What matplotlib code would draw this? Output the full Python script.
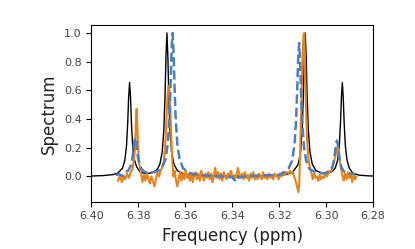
import numpy as np
import matplotlib.pyplot as plt

# black: reference spectrum
ref_ppm = [6.400, 6.395, 6.391, 6.3887, 6.3867, 6.3857, 6.3850, 6.3845, 6.3841, 6.3837,
           6.3833, 6.3829, 6.3824, 6.3817, 6.3807, 6.3792, 6.3772, 6.3752, 6.3732, 6.3718,
           6.3708, 6.3698, 6.3691, 6.3686, 6.3682, 6.3678, 6.3674, 6.3670, 6.3665, 6.3658,
           6.3648, 6.3633, 6.360, 6.355, 6.345, 6.335, 6.325, 6.318, 6.3145, 6.3119,
           6.3109, 6.3102, 6.3097, 6.3093, 6.3089, 6.3085, 6.3081, 6.3076, 6.3069, 6.3059,
           6.3044, 6.3019, 6.2996, 6.2976, 6.2961, 6.2951, 6.2944, 6.2939, 6.2935, 6.2931,
           6.2927, 6.2923, 6.2918, 6.2911, 6.2901, 6.2886, 6.286, 6.282, 6.280]
ref_val = [0.003, 0.006, 0.012, 0.023, 0.058, 0.114, 0.216, 0.37, 0.55, 0.655,
           0.556, 0.37, 0.218, 0.12, 0.067, 0.031, 0.021, 0.022, 0.032, 0.052,
           0.086, 0.171, 0.327, 0.562, 0.838, 1.0, 0.838, 0.561, 0.325, 0.169,
           0.085, 0.039, 0.013, 0.005, 0.003, 0.003, 0.003, 0.010, 0.025, 0.083,
           0.168, 0.324, 0.559, 0.835, 1.0, 0.838, 0.562, 0.327, 0.172, 0.086,
           0.042, 0.023, 0.022, 0.031, 0.059, 0.113, 0.214, 0.367, 0.547, 0.653,
           0.546, 0.366, 0.213, 0.112, 0.057, 0.022, 0.009, 0.004, 0.003]

# blue dashed: fitted spectrum
fit_ppm = [6.3895, 6.3880, 6.3865, 6.3855, 6.3843, 6.3833, 6.3826, 6.3821, 6.3817, 6.3813,
           6.3809, 6.3805, 6.3800, 6.3793, 6.3783, 6.3770, 6.3750, 6.3730, 6.3710, 6.3699,
           6.3684, 6.3674, 6.3667, 6.3662, 6.3658, 6.3654, 6.3650, 6.3646, 6.3641, 6.3634,
           6.3624, 6.3609, 6.3584, 6.355, 6.350, 6.345, 6.340, 6.3385, 6.3375, 6.335,
           6.330, 6.325, 6.320, 6.3175, 6.316, 6.3145, 6.3135, 6.3128, 6.3123, 6.3119,
           6.3115, 6.3111, 6.3107, 6.3102, 6.3095, 6.3085, 6.3070, 6.3045, 6.3010, 6.2995,
           6.2984, 6.2974, 6.2967, 6.2962, 6.2958, 6.2954, 6.2950, 6.2946, 6.2941, 6.2934,
           6.2924, 6.2905, 6.2890, 6.2877]
fit_val = [0.01, 0.015, 0.0, 0.03, 0.04, 0.07, 0.12, 0.18, 0.24, 0.27,
           0.24, 0.18, 0.12, 0.075, 0.045, 0.03, 0.025, 0.03, 0.045, 0.06,
           0.12, 0.232, 0.417, 0.654, 0.883, 1.0, 0.883, 0.654, 0.417, 0.232,
           0.118, 0.056, 0.025, 0.012, 0.005, 0.0, -0.005, -0.035, -0.01, 0.0,
           0.005, 0.008, 0.012, 0.03, 0.055, 0.11, 0.216, 0.388, 0.608, 0.82,
           0.93, 0.82, 0.608, 0.388, 0.216, 0.11, 0.05, 0.03, 0.02, 0.03,
           0.04, 0.065, 0.11, 0.17, 0.22, 0.25, 0.22, 0.165, 0.105, 0.06,
           0.035, 0.02, 0.02, 0.015]

# orange: measured spectrum
meas_ppm = [6.3886, 6.3878, 6.3870, 6.3862, 6.3855, 6.3848, 6.3840, 6.3832, 6.3825, 6.3818,
            6.3813, 6.3810, 6.3807, 6.3804, 6.3800, 6.3795, 6.3788, 6.3782, 6.3776, 6.3770,
            6.3764, 6.3757, 6.3750, 6.3744, 6.3738, 6.3731, 6.3725, 6.3718, 6.3711, 6.3705,
            6.3699, 6.3692, 6.3686, 6.3681, 6.3676, 6.3671, 6.3667, 6.3663, 6.3659, 6.3655,
            6.3650, 6.3645, 6.3640, 6.3634, 6.3628, 6.3622, 6.3616, 6.3610, 6.3604, 6.3598,
            6.3592, 6.3586, 6.3580, 6.3574, 6.3568, 6.3562, 6.3556, 6.3550, 6.3544, 6.3538,
            6.3532, 6.3526, 6.3520, 6.3514, 6.3508, 6.3502, 6.3496, 6.3490, 6.3484, 6.3478,
            6.3472, 6.3466, 6.3460, 6.3454, 6.3448, 6.3442, 6.3436, 6.3430, 6.3424, 6.3418,
            6.3412, 6.3406, 6.3400, 6.3394, 6.3388, 6.3382, 6.3376, 6.3370, 6.3364, 6.3358,
            6.3352, 6.3346, 6.3340, 6.3334, 6.3328, 6.3322, 6.3316, 6.3310, 6.3304, 6.3298,
            6.3292, 6.3286, 6.3280, 6.3274, 6.3268, 6.3262, 6.3256, 6.3250, 6.3244, 6.3238,
            6.3232, 6.3226, 6.3220, 6.3214, 6.3208, 6.3202, 6.3196, 6.3190, 6.3184, 6.3178,
            6.3172, 6.3166, 6.3160, 6.3154, 6.3148, 6.3142, 6.3136, 6.3130, 6.3124, 6.3118,
            6.3114, 6.3110, 6.3105, 6.3100, 6.3096, 6.3093, 6.3090, 6.3086, 6.3081, 6.3075,
            6.3069, 6.3063, 6.3057, 6.3051, 6.3045, 6.3039, 6.3033, 6.3027, 6.3021, 6.3015,
            6.3009, 6.3003, 6.2997, 6.2991, 6.2985, 6.2979, 6.2973, 6.2967, 6.2961, 6.2955,
            6.2949, 6.2943, 6.2937, 6.2931, 6.2925, 6.2919, 6.2913, 6.2907, 6.2901, 6.2895,
            6.2889, 6.2883, 6.2877, 6.2872]
meas_val = [-0.03, 0.01, -0.04, 0.0, -0.02, 0.02, -0.01, 0.03, 0.05, 0.12,
            0.22, 0.38, 0.47, 0.36, 0.18, 0.08, 0.02, -0.04, 0.01, -0.03,
            0.02, -0.02, -0.05, 0.0, -0.03, -0.07, -0.02, 0.03, 0.0, 0.04,
            0.06, 0.1, 0.2, 0.35, 0.55, 0.63, 0.6, 0.45, 0.25, 0.1,
            0.0, 0.04, -0.02, -0.07, -0.02, 0.03, -0.03, 0.02, -0.02, 0.04,
            -0.01, 0.01, -0.03, 0.02, -0.04, 0.01, 0.03, -0.02, 0.02, -0.03,
            0.04, 0.0, -0.03, 0.02, -0.01, 0.03, -0.02, 0.02, -0.04, 0.01,
            0.06, -0.01, 0.03, -0.02, 0.02, -0.03, 0.03, 0.0, -0.02, 0.02,
            -0.01, 0.04, 0.0, -0.02, 0.01, -0.01, 0.06, 0.02, -0.01, 0.02,
            -0.02, 0.03, -0.01, 0.01, -0.03, 0.02, -0.01, 0.03, -0.02, 0.01,
            -0.02, 0.02, 0.0, -0.02, 0.03, -0.01, 0.01, -0.02, 0.02, -0.01,
            0.01, -0.02, 0.02, 0.0, 0.01, -0.02, 0.02, 0.0, 0.03, 0.01,
            0.02, 0.03, 0.02, 0.04, 0.02, 0.03, 0.0, -0.03, -0.07, -0.11,
            -0.03, 0.2, 0.55, 0.85, 0.99, 1.0, 0.8, 0.5, 0.25, 0.12,
            0.06, 0.03, -0.02, 0.02, -0.01, 0.0, -0.03, 0.01, -0.02, 0.0,
            -0.01, 0.02, 0.0, 0.02, 0.04, 0.03, 0.06, 0.1, 0.14, 0.18,
            0.2, 0.12, 0.06, 0.01, -0.03, 0.02, -0.02, 0.03, -0.01, 0.02,
            -0.04, 0.01, -0.02, 0.0]

fig = plt.figure(figsize=(4.15, 2.49), dpi=100)
ax = fig.add_axes([0.22, 0.19, 0.679, 0.71])

ax.plot(ref_ppm, ref_val, color='black', lw=1.0)
ax.plot(meas_ppm, meas_val, color='#e8811a', lw=1.5)
ax.plot(fit_ppm, fit_val, color='#4a7fc6', lw=1.8, ls='--')

ax.set_xlim(6.40, 6.28)
ax.set_ylim(-0.176, 1.056)
ax.set_xticks(np.arange(6.28, 6.401, 0.02))
ax.set_yticks([0.0, 0.2, 0.4, 0.6, 0.8, 1.0])
ax.tick_params(labelsize=8, labelcolor='#444444', length=3.5)
ax.set_xticklabels(['6.28', '6.30', '6.32', '6.34', '6.36', '6.38', '6.40'])

ax.set_xlabel('Frequency (ppm)', fontsize=12, color='#222222')
ax.set_ylabel('Spectrum', fontsize=12, color='#222222')

fig.savefig('out.png', dpi=100)
